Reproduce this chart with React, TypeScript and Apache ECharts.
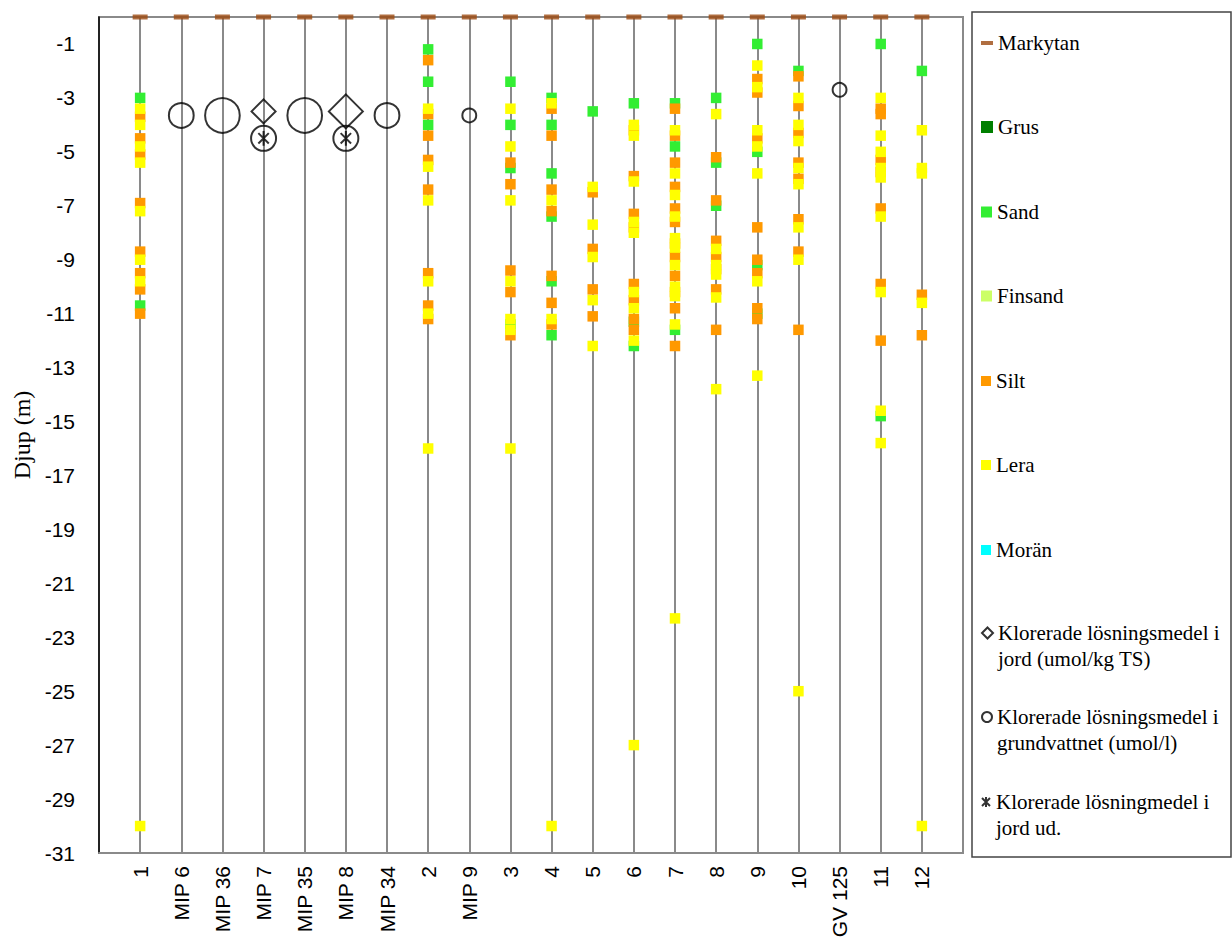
import React, { useEffect, useRef } from "react";
import * as echarts from "echarts";

// ---- data ----
const boreholes = [
  "1", "MIP 6", "MIP 36", "MIP 7", "MIP 35", "MIP 8", "MIP 34", "2", "MIP 9", "3",
  "4", "5", "6", "7", "8", "9", "10", "GV 125", "11", "12",
];

// ground surface (markytan) depth for each borehole
const surfaceDepth = [0, 0, 0, 0, 0, 0, 0, 0, 0, 0, 0, 0, 0, 0, 0, 0, 0, 0, 0, 0];

type Rows = [string, number[]][];

const grusDepths: Rows = [];
const finsandDepths: Rows = [];
const moranDepths: Rows = [];

const sandDepths: Rows = [
  ["1", [-3.0, -10.7]],
  ["2", [-1.2, -2.4, -4.0]],
  ["3", [-2.4, -4.0, -5.6, -11.4]],
  ["4", [-3.0, -4.0, -5.8, -7.4, -9.8, -11.8]],
  ["5", [-3.5]],
  ["6", [-3.2, -11.3, -12.2]],
  ["7", [-3.2, -4.8, -11.6]],
  ["8", [-3.0, -5.4, -7.0]],
  ["9", [-1.0, -5.0, -9.2, -11.0]],
  ["10", [-2.0]],
  ["11", [-1.0, -14.8]],
  ["12", [-2.0]],
];

const siltDepths: Rows = [
  ["1", [-3.7, -4.5, -5.1, -6.9, -8.7, -9.5, -10.1, -11.0]],
  ["2", [-1.6, -3.6, -4.4, -5.3, -6.4, -9.5, -10.7, -11.2]],
  ["3", [-5.4, -6.2, -9.4, -10.2, -11.8]],
  ["4", [-3.4, -4.4, -6.4, -7.2, -9.6, -10.6, -11.4]],
  ["5", [-6.5, -8.6, -10.1, -11.1]],
  ["6", [-4.2, -5.9, -7.3, -7.8, -9.9, -10.5, -11.2, -11.6]],
  ["7", [-3.4, -4.4, -5.4, -6.3, -7.1, -7.6, -8.4, -8.9, -9.6, -10.2, -10.8, -12.2]],
  ["8", [-5.2, -6.8, -8.3, -8.9, -9.35, -10.1, -11.6]],
  ["9", [-2.3, -2.8, -4.5, -7.8, -9.0, -9.5, -10.8, -11.2]],
  ["10", [-2.2, -3.3, -4.3, -5.4, -6.0, -7.5, -8.7, -11.6]],
  ["11", [-3.4, -3.6, -5.3, -5.75, -7.1, -9.9, -12.0]],
  ["12", [-10.3, -11.8]],
];

const leraDepths: Rows = [
  ["1", [-3.4, -4.0, -4.8, -5.4, -7.2, -9.0, -9.8, -30.0]],
  ["2", [-3.4, -5.55, -6.8, -9.8, -11.0, -16.0]],
  ["3", [-3.4, -4.8, -6.8, -9.8, -11.2, -11.6, -16.0]],
  ["4", [-3.2, -6.8, -11.2, -30.0]],
  ["5", [-6.3, -7.7, -8.9, -10.5, -12.2]],
  ["6", [-4.0, -4.4, -6.1, -7.6, -8.0, -10.2, -10.8, -12.0, -27.0]],
  ["7", [-4.2, -5.8, -6.6, -7.4, -8.2, -8.55, -9.2, -10.0, -10.35, -11.4, -22.3]],
  ["8", [-3.6, -8.6, -9.2, -9.55, -10.4, -13.8]],
  ["9", [-1.8, -2.6, -4.2, -4.8, -5.8, -9.8, -13.3]],
  ["10", [-3.0, -4.0, -4.6, -5.6, -6.2, -7.8, -9.0, -25.0]],
  ["11", [-3.0, -4.4, -5.0, -5.6, -5.95, -7.4, -10.2, -14.6, -15.8]],
  ["12", [-4.2, -5.6, -5.8, -10.6, -30.0]],
];

// chlorinated solvents: [borehole, depth, relative concentration]
const soilSolvents: [string, number, number][] = [
  ["MIP 7", -3.5, 0.6],
  ["MIP 8", -3.5, 1.2],
];
const groundwaterSolvents: [string, number, number][] = [
  ["MIP 6", -3.65, 0.64],
  ["MIP 36", -3.65, 1.25],
  ["MIP 35", -3.65, 1.25],
  ["MIP 34", -3.65, 0.64],
  ["MIP 9", -3.65, 0.2],
  ["GV 125", -2.7, 0.2],
];
const soilSolventsND: [string, number][] = [
  ["MIP 7", -4.5],
  ["MIP 8", -4.5],
];

// ---- helpers ----
const xOf = (b: string) => boreholes.indexOf(b) + 1;
const toPoints = (rows: Rows) =>
  rows.flatMap(([b, ds]) => ds.map((d) => [xOf(b), d]));

const SERIF = "'Liberation Serif', 'Times New Roman', serif";
const SANS = "'Liberation Sans', Arial, sans-serif";

const asteriskPath = "path://M1,1L9,9M9,1L1,9M5,0L5,10";
const circledAsteriskPath =
  "path://M0.5,12.5A12,12,0,1,1,24.5,12.5A12,12,0,1,1,0.5,12.5ZM7.5,7.5L17.5,17.5M17.5,7.5L7.5,17.5M12.5,5.5L12.5,19.5";

const N_SOIL = "Klorerade lösningsmedel i jord (umol/kg TS)";
const N_GW = "Klorerade lösningsmedel i grundvattnet (umol/l)";
const N_ND = "Klorerade lösningmedel i jord ud.";

// leading empty line keeps the icon level with the first text line
const wrapName: Record<string, string> = {
  [N_SOIL]: "\nKlorerade lösningsmedel i\njord (umol/kg TS)",
  [N_GW]: "\nKlorerade lösningsmedel i\ngrundvattnet (umol/l)",
  [N_ND]: "\nKlorerade lösningmedel i\njord ud.",
};

const bubbleSize = (v: number) => 31 * Math.sqrt(v);

export default function App() {
  const ref = useRef<HTMLDivElement>(null);

  useEffect(() => {
    if (!ref.current) return;
    const chart = echarts.init(ref.current, undefined, { renderer: "svg" });

    const squareSeries = (name: string, rows: Rows, color: string) => ({
      name,
      type: "scatter",
      symbol: "rect",
      symbolSize: 10.5,
      itemStyle: { color, opacity: 1 },
      data: toPoints(rows),
      z: 3,
    });

    const legendDefs = [
      { name: "Markytan", icon: "rect", w: 12, h: 4, c: 43, outline: false },
      { name: "Grus", icon: "rect", w: 12, h: 12, c: 127, outline: false },
      { name: "Sand", icon: "rect", w: 11, h: 11, c: 212, outline: false },
      { name: "Finsand", icon: "rect", w: 11, h: 11, c: 296, outline: false },
      { name: "Silt", icon: "rect", w: 10, h: 10, c: 381, outline: false },
      { name: "Lera", icon: "rect", w: 10, h: 10, c: 465, outline: false },
      { name: "Morän", icon: "rect", w: 10, h: 10, c: 550, outline: false },
      { name: N_SOIL, icon: "diamond", w: 11, h: 11, c: 633, outline: true },
      { name: N_GW, icon: "circle", w: 10, h: 10, c: 717, outline: true },
      { name: N_ND, icon: asteriskPath, w: 10, h: 10, c: 802, outline: true },
    ];

    const legends = legendDefs.map((d) => {
      const multi = !!wrapName[d.name];
      const lg: any = {
        data: [{ name: d.name, icon: d.icon }],
        left: 981,
        top: multi ? d.c - 39 : d.c - 13,
        orient: "vertical",
        padding: 0,
        itemWidth: d.w,
        itemHeight: d.h,
        selectedMode: false,
        formatter: (n: string) => wrapName[n] || n,
        textStyle: {
          fontFamily: SERIF,
          fontSize: 21,
          color: "#000",
          lineHeight: 26,
        },
      };
      if (d.outline) {
        lg.itemStyle = { color: "transparent", borderColor: "#000", borderWidth: 2 };
      }
      return lg;
    });

    chart.setOption({
      animation: false,
      backgroundColor: "#fff",
      grid: {
        left: 99,
        top: 17,
        right: 269,
        bottom: 94,
        show: true,
        borderColor: "#8a8a8a",
        borderWidth: 2,
      },
      xAxis: {
        type: "value",
        min: 0,
        max: 21,
        interval: 1,
        axisLine: { show: true, onZero: false, lineStyle: { color: "#8a8a8a", width: 2 } },
        axisTick: { show: false },
        splitLine: { show: true, lineStyle: { color: "#8a8a8a", width: 2 } },
        axisLabel: {
          rotate: 90,
          margin: 13,
          fontFamily: SANS,
          fontSize: 21,
          color: "#000",
          showMinLabel: false,
          showMaxLabel: false,
          formatter: (v: number) =>
            Number.isInteger(v) && v >= 1 && v <= boreholes.length ? boreholes[v - 1] : "",
        },
      },
      yAxis: {
        type: "value",
        min: -31,
        max: 0,
        interval: 2,
        name: "Djup (m)",
        nameLocation: "middle",
        nameGap: 64,
        nameTextStyle: { fontFamily: SERIF, fontSize: 24, color: "#000" },
        axisLine: { show: true, onZero: false, lineStyle: { color: "#000", width: 1.5 } },
        axisTick: { show: false },
        splitLine: { show: false },
        axisLabel: {
          margin: 24,
          fontFamily: SANS,
          fontSize: 21,
          color: "#000",
          formatter: (v: number) => (v === 0 ? "" : String(v)),
        },
      },
      legend: legends,
      series: [
        {
          name: "Markytan",
          type: "scatter",
          symbol: "rect",
          symbolSize: [15, 5],
          itemStyle: { color: "#9C4A10" },
          data: surfaceDepth.map((d, i) => [i + 1, d]),
          z: 4,
        },
        squareSeries("Grus", grusDepths, "#007F00"),
        squareSeries("Sand", sandDepths, "#33EE33"),
        squareSeries("Finsand", finsandDepths, "#CCFF66"),
        squareSeries("Silt", siltDepths, "#FF9900"),
        squareSeries("Lera", leraDepths, "#FFFF00"),
        squareSeries("Morän", moranDepths, "#00FFFF"),
        {
          name: N_SOIL,
          type: "scatter",
          symbol: "diamond",
          symbolSize: (val: number[]) => bubbleSize(val[2]),
          itemStyle: { color: "transparent", borderColor: "#000", borderWidth: 2 },
          data: soilSolvents.map(([b, d, v]) => [xOf(b), d, v]),
          z: 5,
        },
        {
          name: N_GW,
          type: "scatter",
          symbol: "circle",
          symbolSize: (val: number[]) => bubbleSize(val[2]),
          itemStyle: { color: "transparent", borderColor: "#000", borderWidth: 2 },
          data: groundwaterSolvents.map(([b, d, v]) => [xOf(b), d, v]),
          z: 5,
        },
        {
          name: N_ND,
          type: "scatter",
          symbol: circledAsteriskPath,
          symbolSize: 25,
          itemStyle: { color: "transparent", borderColor: "#000", borderWidth: 2 },
          data: soilSolventsND.map(([b, d]) => [xOf(b), d]),
          z: 5,
        },
      ],
      graphic: [
        {
          type: "rect",
          shape: { x: 972, y: 12, width: 259, height: 845 },
          style: { fill: "transparent", stroke: "#444", lineWidth: 1.5 },
          z: -1,
        },
      ],
    });

    return () => chart.dispose();
  }, []);

  return (
    <div
      ref={ref}
      style={{ position: "fixed", left: 0, top: 0, width: 1232, height: 947, background: "#fff" }}
    />
  );
}
